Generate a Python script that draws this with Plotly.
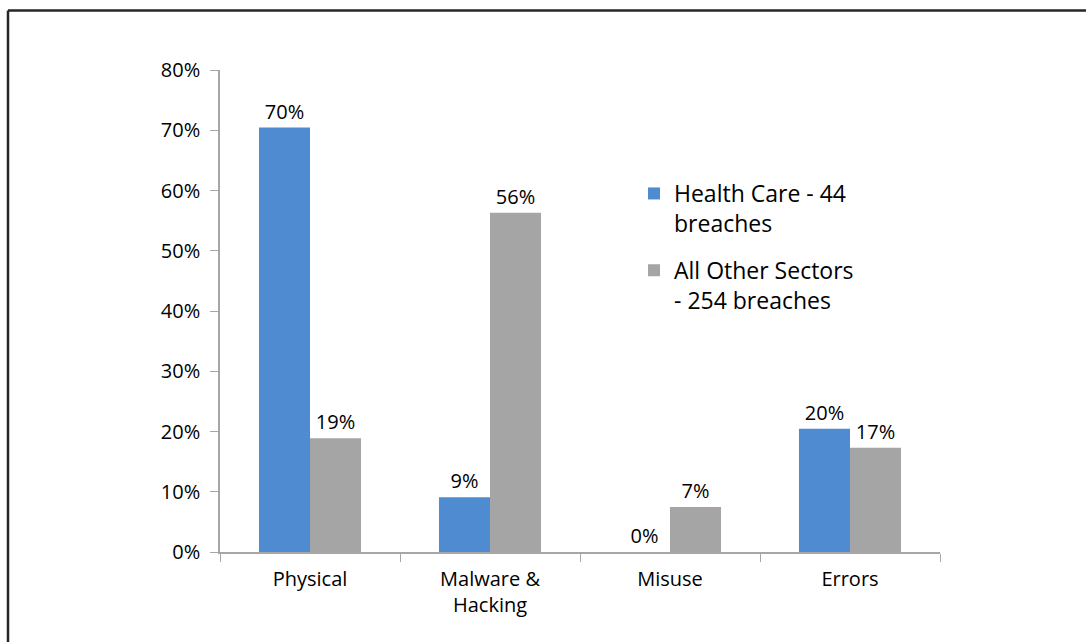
import plotly.graph_objects as go

categories = ["Physical", "Malware &<br>Hacking", "Misuse", "Errors"]
health_care = [0.7045, 0.0909, 0.0, 0.2045]
other_sectors = [0.189, 0.563, 0.0748, 0.173]
series_names = ["Health Care - 44<br>breaches", "All Other Sectors<br>- 254 breaches"]
y_ticks = [0, 0.1, 0.2, 0.3, 0.4, 0.5, 0.6, 0.7, 0.8]

W, H = 1086, 642
ML, MR, MT, MB = 220, 146, 70, 90
PW, PH = W - ML - MR, H - MT - MB

FONT = "Open Sans"
BLUE = "#4F8BD0"
GRAY = "#A5A5A5"
AXIS = "#A6A6A6"

fig = go.Figure()
for name, vals, color, grp in [(series_names[0], health_care, BLUE, "a"),
                               (series_names[1], other_sectors, GRAY, "b")]:
    fig.add_trace(go.Bar(
        x=categories, y=vals, name=name, legendgroup=grp,
        marker=dict(color=color, line=dict(width=0)),
        texttemplate="%{y:.0%}", textposition="outside",
        textfont=dict(family=FONT, size=20, color="#000000"),
        cliponaxis=False,
    ))


def px_x(p):
    return (p - ML) / PW


def px_y(p):
    return (H - MB - p) / PH


# frame lines along the top and left edges of the page
fig.add_shape(type="line", xref="paper", yref="paper",
              x0=px_x(8), x1=px_x(W + 5), y0=px_y(10.5), y1=px_y(10.5),
              line=dict(color="#262626", width=2.5))
fig.add_shape(type="line", xref="paper", yref="paper",
              x0=px_x(8), x1=px_x(8), y0=px_y(10.5), y1=px_y(H + 5),
              line=dict(color="#262626", width=2.5))

fig.update_layout(
    width=W, height=H,
    margin=dict(l=ML, r=MR, t=MT, b=MB),
    paper_bgcolor="white", plot_bgcolor="white",
    barmode="group", bargap=0.433, bargroupgap=0,
    font=dict(family=FONT, size=20, color="#000000"),
    showlegend=True,
    legend=dict(
        x=px_x(634), y=px_y(172), xanchor="left", yanchor="top",
        font=dict(family=FONT, size=23, color="#000000"),
        tracegroupgap=14, bgcolor="rgba(0,0,0,0)", valign="top",
    ),
    xaxis=dict(
        showline=True, linecolor=AXIS, linewidth=1.5,
        ticks="outside", tickson="boundaries", ticklen=8, tickcolor=AXIS,
        showgrid=False, tickfont=dict(family=FONT, size=20),
        ticklabelstandoff=8,
    ),
    yaxis=dict(
        range=[0, 0.8], tickvals=y_ticks, tickformat=".0%",
        showline=True, linecolor=AXIS, linewidth=1.5,
        ticks="outside", ticklen=8, tickcolor=AXIS,
        showgrid=False, zeroline=False, tickfont=dict(family=FONT, size=20),
        ticklabelstandoff=6,
    ),
)

fig.write_html("out.html")
